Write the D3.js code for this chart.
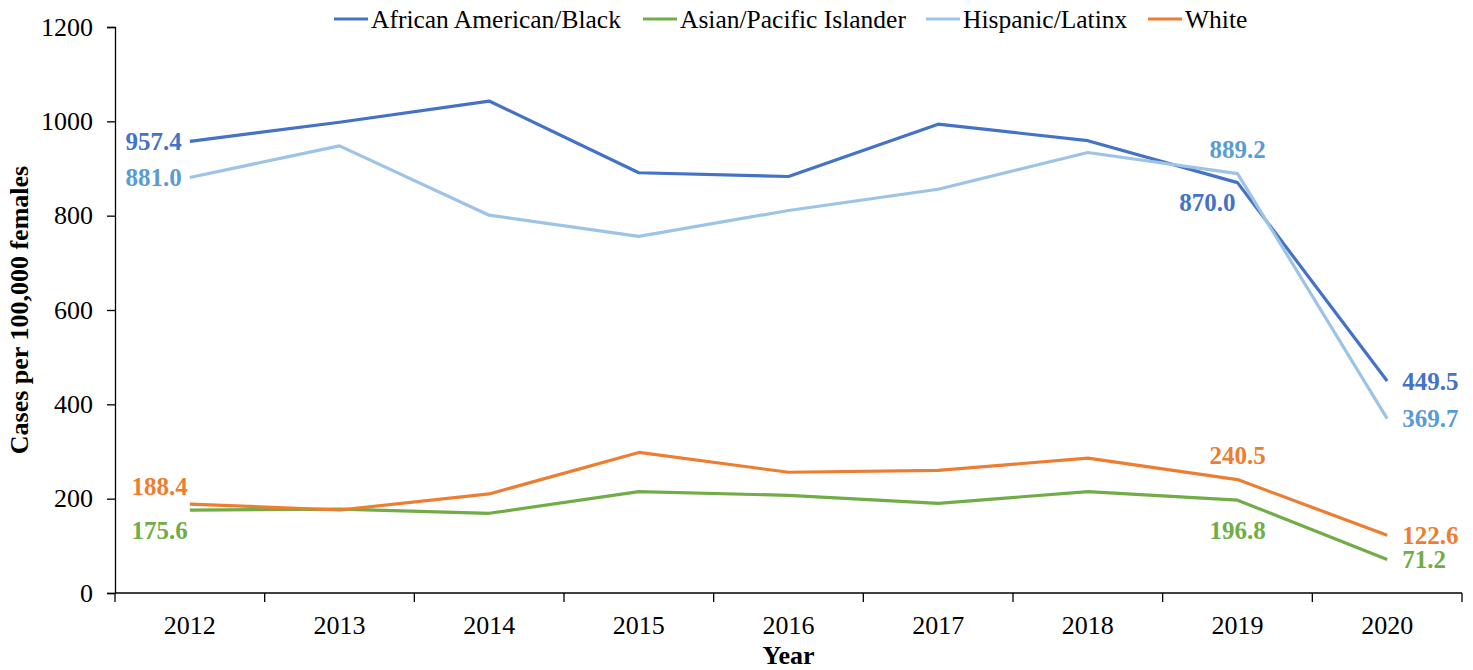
<!DOCTYPE html>
<html>
<head>
<meta charset="utf-8">
<script src="https://cdn.jsdelivr.net/npm/d3@7"></script>
<style>
  html, body { margin: 0; padding: 0; background: #fff; }
  svg { display: block; font-family: "Liberation Serif", "Times New Roman", serif; }
</style>
</head>
<body>
<svg id="chart" width="1473" height="670"></svg>
<script>
const years = ["2012","2013","2014","2015","2016","2017","2018","2019","2020"];
const seriesNames = ["African American/Black", "Asian/Pacific Islander", "Hispanic/Latinx", "White"];
const blackValues    = [957.4, 998, 1043, 891, 883, 994, 959, 870.0, 449.5];
const asianValues    = [175.6, 178, 169, 215, 207, 190, 215, 196.8, 71.2];
const hispanicValues = [881.0, 948, 801, 756, 811, 856, 934, 889.2, 369.7];
const whiteValues    = [188.4, 176, 210, 298, 256, 260, 286, 240.5, 122.6];
const yTicks = [0, 200, 400, 600, 800, 1000, 1200];
// labelled points: [series index, year index, placement]
const labelled = [
  [0, 0, "left"], [0, 7, "belowLeft"], [0, 8, "right"],
  [1, 0, "belowLeft"], [1, 7, "below"], [1, 8, "right"],
  [2, 0, "left"], [2, 7, "above"], [2, 8, "right"],
  [3, 0, "aboveLeft"], [3, 7, "above"], [3, 8, "right"]
];

const lineColors  = ["#4472C4", "#70AD47", "#9DC3E6", "#ED7D31"];
const labelColors = ["#4472C4", "#70AD47", "#5B9BD5", "#ED7D31"];
const allValues = [blackValues, asianValues, hispanicValues, whiteValues];

const svg = d3.select("#chart");
const margin = {left: 115, right: 11, top: 27, bottom: 77};
const W = 1473, H = 670;
const x0 = margin.left, x1 = W - margin.right;
const y0 = H - margin.bottom, y1 = margin.top;

const x = d3.scaleBand().domain(years).range([x0, x1]).padding(0);
const y = d3.scaleLinear().domain([0, 1200]).range([y0, y1]);
const cx = d => x(d) + x.bandwidth() / 2;

// Y axis
const yAxis = svg.append("g").attr("transform", `translate(${x0},0)`)
  .call(d3.axisLeft(y).tickValues(yTicks).tickSize(8).tickPadding(14).tickFormat(d3.format("d")));
yAxis.selectAll("path, line").attr("stroke", "#000").attr("stroke-width", 1.3);
yAxis.selectAll("text").attr("font-size", 26).attr("fill", "#000")
  .attr("font-family", "Liberation Serif, Times New Roman, serif");

// X axis: line + boundary ticks + centered labels
const xg = svg.append("g").attr("transform", `translate(0,${y0})`);
xg.append("line").attr("x1", x0).attr("x2", x1).attr("y1", 0).attr("y2", 0)
  .attr("stroke", "#000").attr("stroke-width", 1.3);
const boundaries = years.map(d => x(d)).concat([x1]);
xg.selectAll("line.tk").data(boundaries).join("line").attr("class", "tk")
  .attr("x1", d => d).attr("x2", d => d).attr("y1", 0).attr("y2", 9)
  .attr("stroke", "#000").attr("stroke-width", 1.3);
xg.selectAll("text.yl").data(years).join("text").attr("class", "yl")
  .attr("x", d => cx(d)).attr("y", 41).attr("text-anchor", "middle")
  .attr("font-size", 26).attr("fill", "#000").text(d => d);

// Axis titles
svg.append("text").attr("transform", `translate(28,${(y0 + y1) / 2}) rotate(-90)`)
  .attr("text-anchor", "middle").attr("font-size", 26).attr("font-weight", "bold")
  .text("Cases per 100,000 females");
svg.append("text").attr("x", (x0 + x1) / 2).attr("y", 664)
  .attr("text-anchor", "middle").attr("font-size", 26).attr("font-weight", "bold")
  .text("Year");

// Lines
const line = d3.line().x((d, i) => cx(years[i])).y(d => y(d));
allValues.forEach((vals, si) => {
  svg.append("path").datum(vals).attr("d", line).attr("fill", "none")
    .attr("stroke", lineColors[si]).attr("stroke-width", 3.2)
    .attr("stroke-linejoin", "round");
});

// Data labels
const fmt = d3.format(".1f");
labelled.forEach(([si, yi, pos]) => {
  const v = allValues[si][yi];
  const px = cx(years[yi]), py = y(v);
  let tx = px, ty = py, anchor = "middle";
  if (pos === "left") { tx = px - 8; anchor = "end"; ty = py; }
  else if (pos === "right") { tx = px + 15; anchor = "start"; }
  else if (pos === "above") { ty = py - 24; }
  else if (pos === "below") { ty = py + 30; }
  else if (pos === "aboveLeft") { tx = px - 2; anchor = "end"; ty = py - 18; }
  else if (pos === "belowLeft") { tx = px - 2; anchor = "end"; ty = py + 20; }
  svg.append("text").attr("x", tx).attr("y", ty).attr("dy", "0.35em")
    .attr("text-anchor", anchor).attr("font-size", 25).attr("font-weight", "bold")
    .attr("fill", labelColors[si]).text(fmt(v));
});

// Legend
const legendX = [334, 643, 926, 1148];
seriesNames.forEach((name, si) => {
  const g = svg.append("g").attr("transform", `translate(${legendX[si]},19)`);
  g.append("line").attr("x1", 0).attr("x2", 34).attr("y1", 0).attr("y2", 0)
    .attr("stroke", lineColors[si]).attr("stroke-width", 3.2);
  g.append("text").attr("x", 37).attr("y", 0).attr("dy", "0.35em")
    .attr("font-size", 25.5).attr("fill", "#000").text(name);
});
</script>
</body>
</html>
